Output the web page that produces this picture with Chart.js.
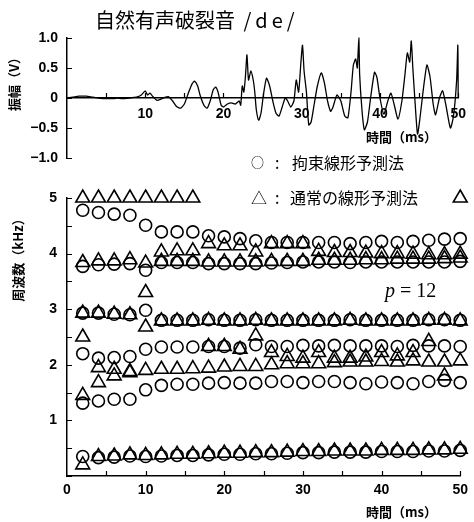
<!DOCTYPE html>
<html>
<head>
<meta charset="utf-8">
<script src="https://cdn.jsdelivr.net/npm/chart.js@4/dist/chart.umd.min.js"></script>
<style>
  body { margin: 0; background: #fff; }
  #wrap { position: relative; width: 474px; height: 522px; overflow: hidden; }
  canvas { position: absolute; left: 0; }
  .txt { position: absolute; white-space: nowrap; line-height: 1; color: #000;
         font-family: 'Noto Sans CJK JP', sans-serif; }
  .rot { transform: translate(-50%, -50%) rotate(-90deg); }
  .sym { position: absolute; top: 0; }
</style>
</head>
<body>
<div id="wrap">
  <canvas id="wave" width="474" height="180" style="top:0"></canvas>
  <canvas id="freq" width="474" height="347" style="top:175px"></canvas>

  <div class="txt" style="left:95px; top:10px; font-size:20px;">自然有声破裂音 <span style="letter-spacing:4px; margin-left:4px;">/de/</span></div>
  <div class="txt rot" style="left:13px; top:81px; font-size:13px; font-weight:bold;">振幅（V）</div>
  <div class="txt" style="left:366px; top:130px; font-size:13px; font-weight:bold;">時間（ms）</div>
  <div class="txt" style="left:251px; top:155px; font-size:13px;">○</div>
  <div class="txt" style="left:275px; top:154px; font-size:16px;">:</div>
  <div class="txt" style="left:292px; top:154px; font-size:16px;">拘束線形予測法</div>
  <div class="txt" style="left:251px; top:189px; font-size:16px;">△</div>
  <div class="txt" style="left:275px; top:189px; font-size:16px;">:</div>
  <div class="txt" style="left:290px; top:189px; font-size:16px;">通常の線形予測法</div>
  <div class="txt" style="left:385px; top:280px; font-size:20px; font-family:'Liberation Serif', serif;"><i>p</i> = 12</div>
  <div class="txt rot" style="left:17px; top:257px; font-size:13px; font-weight:bold;">周波数（kHz）</div>
  <div class="txt" style="left:366px; top:505px; font-size:13px; font-weight:bold;">時間（ms）</div>
</div>

<script>
// waveform (top panel)
const waveT = [0, 0.5, 1, 1.5, 2, 2.5, 3, 3.5, 4, 5, 6, 6.5, 7, 8, 8.5, 9, 9.5, 10, 10.3, 10.6,
  11, 11.5, 12, 12.5, 13, 13.5, 14, 14.5, 15, 15.5, 16, 16.3, 16.7, 17, 17.5, 17.9, 18.3, 18.7, 19, 19.3,
  19.7, 20, 20.5, 21, 21.5, 22, 22.2, 22.4, 22.6, 22.8, 23, 23.2, 23.5, 23.8, 24, 24.2, 24.5, 24.8, 25.1, 25.5,
  25.9, 26.3, 26.7, 27.1, 27.5, 27.9, 28.2, 28.6, 29, 29.3, 29.6, 29.9, 30.1, 30.3, 30.6, 30.9, 31.2, 31.6, 32, 32.5,
  32.9, 33.3, 33.7, 34, 34.5, 35, 35.5, 35.9, 36.3, 36.6, 36.9, 37.1, 37.3, 37.4, 37.7, 38, 38.4, 38.8, 39.3, 39.6,
  40, 40.5, 41, 41.4, 41.8, 42.3, 42.8, 43.2, 43.5, 43.8, 44, 44.2, 44.5, 44.8, 45.1, 45.5, 46, 46.4, 46.8, 47.1,
  47.6, 48, 48.4, 49, 49.4, 49.8, 49.95, 50];
const waveV = [0, 0.01, 0.02, 0.03, 0.03, 0.03, 0.02, 0.01, 0, -0.01, -0.01, 0, -0.01, 0, 0.01, 0.02, 0.05, 0.12, 0.05, 0.08,
  0.02, -0.04, -0.02, 0.01, 0.02, -0.05, -0.14, -0.17, -0.1, 0.08, 0.24, 0.28, 0.2, 0.05, -0.12, -0.17, -0.05, 0.14, 0.18, 0.1,
  -0.12, -0.15, -0.1, -0.08, -0.1, -0.05, -0.12, 0.2, 0.1, 0.35, 0.72, 0.3, 0.45, 0.3, 0.1, -0.2, -0.37, -0.25, 0.05, 0.33,
  0.2, -0.05, -0.25, -0.3, -0.15, 0, -0.05, -0.15, -0.05, 0.3, 0.1, 0.6, 0.88, 0.45, 0.1, -0.45, -0.4, -0.1, 0.2, 0.42,
  0.25, -0.05, -0.22, -0.15, 0.05, -0.05, -0.3, -0.33, 0.1, 0.55, 0.65, 0.5, 1.0, 0.4, -0.2, -0.53, -0.4, 0, 0.43, 0.35,
  0, -0.27, -0.05, 0.08, -0.1, -0.35, -0.05, 0.4, 0.75, 0.6, 0.95, 0.5, -0.1, -0.6, -0.35, 0.1, 0.55, 0.35, -0.1, -0.28,
  0, 0.12, -0.1, -0.5, -0.3, 0.3, 0.88, 0];

// formant frequencies (kHz), one value every 2 ms
const times = [2, 4, 6, 8, 10, 12, 14, 16, 18, 20, 22, 24, 26, 28, 30, 32, 34, 36, 38, 40, 42, 44, 46, 48, 50];

// ○ constrained LPC
const conF1 = [4.78, 4.74, 4.71, 4.69, 4.51, 4.39, 4.39, 4.39, 4.32, 4.30, 4.27, 4.23, 4.20, 4.20, 4.20, 4.20, 4.20, 4.18, 4.20, 4.22, 4.20, 4.22, 4.24, 4.26, 4.27];
const conF2 = [3.77, 3.80, 3.81, 3.82, 3.70, 3.84, 3.84, 3.84, 3.82, 3.82, 3.82, 3.82, 3.83, 3.84, 3.85, 3.85, 3.85, 3.84, 3.85, 3.85, 3.85, 3.85, 3.85, 3.85, 3.86];
const conF3 = [2.93, 2.93, 2.91, 2.90, 2.98, 2.80, 2.80, 2.80, 2.81, 2.80, 2.80, 2.81, 2.80, 2.80, 2.80, 2.80, 2.80, 2.81, 2.80, 2.80, 2.80, 2.80, 2.81, 2.81, 2.80];
const conF4 = [2.20, 2.12, 2.13, 2.15, 2.28, 2.32, 2.32, 2.32, 2.33, 2.33, 2.30, 2.36, 2.33, 2.33, 2.35, 2.34, 2.35, 2.34, 2.34, 2.34, 2.33, 2.35, 2.34, 2.34, 2.33];
const conF5 = [1.31, 1.35, 1.38, 1.38, 1.55, 1.63, 1.65, 1.65, 1.67, 1.68, 1.67, 1.67, 1.70, 1.70, 1.68, 1.70, 1.70, 1.68, 1.66, 1.69, 1.68, 1.66, 1.70, 1.72, 1.68];
const conF6 = [0.35, 0.33, 0.34, 0.36, 0.35, 0.36, 0.37, 0.37, 0.38, 0.39, 0.39, 0.40, 0.40, 0.41, 0.42, 0.42, 0.43, 0.43, 0.43, 0.44, 0.44, 0.44, 0.45, 0.45, 0.46];

// △ ordinary LPC
const normF1 = [5, 5, 5, 5, 5, 5, 5, 5, null, null, null, null, null, null, null, null, null, null, null, null, null, null, null, null, 5];
const normF2 = [null, null, null, null, null, 4.03, 4.05, 4.05, 4.18, 4.14, 4.14, 4.03, 4.18, 4.18, 4.18, 4.04, 4.02, 4.02, 4.01, 4.00, 4.00, 3.99, 3.98, 3.98, 3.99];
const normF3 = [3.84, 3.87, 3.87, 3.89, 3.83, 3.86, 3.86, 3.86, 3.85, 3.85, 3.85, 3.85, 3.86, 3.86, 3.86, 3.88, 3.88, 3.88, 3.89, 3.89, 3.90, 3.90, 3.90, 3.91, 3.92];
const normF4 = [2.93, 2.93, 2.91, 2.90, 2.68, 2.79, 2.79, 2.79, 2.80, 2.79, 2.79, 2.80, 2.79, 2.79, 2.79, 2.79, 2.79, 2.80, 2.79, 2.79, 2.79, 2.79, 2.80, 2.80, 2.79];
const normF5 = [2.50, null, null, null, 3.30, null, null, null, 2.33, 2.33, 2.28, 2.52, 2.22, 2.15, 2.12, 2.22, 2.12, 2.12, 2.14, 2.22, 2.16, 2.22, 2.42, null, null];
const normF6 = [1.45, 1.95, 1.92, 1.88, 1.90, 1.92, 1.92, 1.93, 1.94, 1.96, 1.97, 1.97, 2.00, 2.02, 2.02, 2.02, 2.04, 2.05, 2.05, 2.06, 2.05, 2.07, 2.05, 2.05, 2.07];
const normF7 = [null, 1.68, 1.80, 1.86, null, null, null, null, null, null, null, null, null, null, null, null, null, null, null, null, null, null, null, 1.80, null];
const normF8 = [0.20, 0.35, 0.36, 0.38, 0.37, 0.38, 0.39, 0.39, 0.40, 0.41, 0.41, 0.42, 0.42, 0.43, 0.44, 0.44, 0.45, 0.45, 0.45, 0.46, 0.46, 0.46, 0.47, 0.47, 0.48];

const tickFont = { family: 'Liberation Sans', size: 14, weight: 'bold' };

function toPts(vals) {
  return times.map((t, i) => vals[i] == null ? null : { x: t, y: vals[i] }).filter(Boolean);
}

// short tick marks drawn inside the plot, like the original figure
const innerTicks = {
  id: 'innerTicks',
  afterDraw(chart, args, opts) {
    const ctx = chart.ctx;
    ctx.save();
    ctx.strokeStyle = '#000';
    ctx.lineWidth = 1.2;
    const xs = chart.scales.x, ys = chart.scales.y;
    const baseY = opts.xAtZero ? ys.getPixelForValue(0) : chart.chartArea.bottom;
    ctx.beginPath();
    ys.ticks.forEach(t => {
      const py = Math.round(ys.getPixelForValue(t.value)) + 0.5;
      ctx.moveTo(xs.left, py);
      ctx.lineTo(xs.left + 5, py);
    });
    xs.ticks.forEach(t => {
      if (t.value === 0) return;
      const px = Math.round(xs.getPixelForValue(t.value)) + 0.5;
      ctx.moveTo(px, baseY);
      ctx.lineTo(px, baseY - 5);
    });
    ctx.stroke();
    ctx.restore();
  }
};

new Chart(document.getElementById('wave'), {
  type: 'scatter',
  data: {
    datasets: [{
      data: waveT.map((t, i) => ({ x: t, y: waveV[i] })),
      showLine: true,
      borderColor: '#000',
      borderWidth: 1.3,
      pointRadius: 0,
      tension: 0.2,
    }],
  },
  options: {
    responsive: false,
    animation: false,
    clip: false,
    layout: { padding: { left: 0, right: 11, top: 38, bottom: 22 } },
    plugins: { legend: { display: false }, tooltip: { enabled: false }, innerTicks: { xAtZero: true } },
    scales: {
      x: {
        type: 'linear', min: 0, max: 50,
        position: { y: 0 },
        afterFit: s => { s.height = 0; },
        grid: { display: false, drawTicks: false },
        border: { color: '#000', width: 1.5 },
        ticks: { stepSize: 5, autoSkip: false, padding: 8, color: '#000', font: tickFont,
                 callback: v => (v > 0 && v % 10 === 0) ? v : '' },
      },
      y: {
        min: -1, max: 1,
        afterFit: s => { s.width = 67; },
        grid: { display: false, drawTicks: false },
        border: { color: '#000', width: 1.5 },
        ticks: { stepSize: 0.5, autoSkip: false, padding: 9, color: '#000', font: tickFont,
                 callback: v => v === 0 ? '0' : (v < 0 ? '\u2212' + Math.abs(v).toFixed(1) : v.toFixed(1)) },
      },
    },
  },
  plugins: [innerTicks],
});

const circle = { pointStyle: 'circle', pointRadius: 6, borderWidth: 1.6, borderColor: '#000', backgroundColor: 'rgba(0,0,0,0)' };
const tri = { pointStyle: 'triangle', pointRadius: 8, borderWidth: 1.6, borderColor: '#000', backgroundColor: 'rgba(0,0,0,0)' };

const conTracks = [conF1, conF2, conF3, conF4, conF5, conF6];
const normTracks = [normF1, normF2, normF3, normF4, normF5, normF6, normF7, normF8];

new Chart(document.getElementById('freq'), {
  type: 'scatter',
  data: {
    datasets: [
      ...conTracks.map(v => ({ label: '拘束線形予測法', data: toPts(v), ...circle })),
      ...normTracks.map(v => ({ label: '通常の線形予測法', data: toPts(v), ...tri })),
    ],
  },
  options: {
    responsive: false,
    animation: false,
    clip: false,
    layout: { padding: { left: 0, right: 11, top: 23, bottom: 0 } },
    plugins: { legend: { display: false }, tooltip: { enabled: false }, innerTicks: { xAtZero: false } },
    scales: {
      x: {
        type: 'linear', min: 0, max: 50,
        afterFit: s => { s.height = 46; },
        grid: { display: false, drawTicks: false },
        border: { color: '#000', width: 1.5 },
        ticks: { stepSize: 5, autoSkip: false, padding: 6, color: '#000', font: tickFont,
                 callback: v => v % 10 === 0 ? v : '' },
      },
      y: {
        min: 0, max: 5,
        afterFit: s => { s.width = 67; },
        grid: { display: false, drawTicks: false },
        border: { color: '#000', width: 1.5 },
        ticks: { stepSize: 0.5, autoSkip: false, padding: 10, color: '#000', font: tickFont,
                 callback: v => (Number.isInteger(v) && v > 0) ? v : '' },
      },
    },
  },
  plugins: [innerTicks],
});
</script>
</body>
</html>
